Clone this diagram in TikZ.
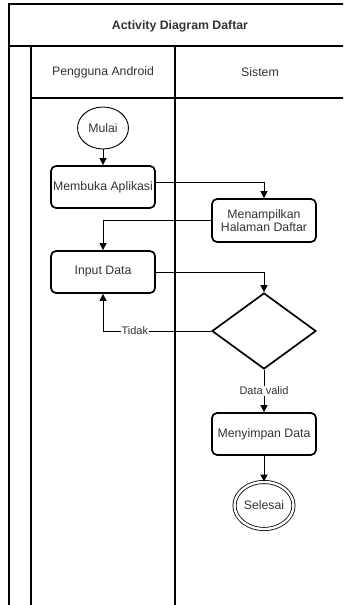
\documentclass[tikz,border=0pt]{standalone}
\usepackage{fontspec}
\setmainfont{Liberation Sans}
\usetikzlibrary{shapes.geometric,arrows.meta,calc}
\definecolor{txt}{HTML}{333333}
\tikzset{
  lane/.style={line width=1.1pt, black},
  actbox/.style={draw, line width=1.7pt, rounded corners=5pt, minimum width=104pt, minimum height=42pt, inner sep=1pt, align=center, text=txt, font=\fontsize{12.3}{13}\selectfont},
  startnode/.style={draw, ellipse, line width=0.9pt, minimum width=51pt, minimum height=42pt, inner sep=0pt, text=txt, font=\fontsize{12.3}{13}\selectfont},
  endnode/.style={draw, ellipse, double, double distance=2.4pt, line width=0.8pt, minimum width=59pt, minimum height=47pt, inner sep=0pt, text=txt, font=\fontsize{12.3}{13}\selectfont},
  decnode/.style={draw, diamond, line width=1.7pt, minimum width=104pt, minimum height=76pt, inner sep=0pt},
  flow/.style={line width=1pt, -{Triangle[length=7pt,width=7pt]}},
  lbl/.style={fill=white, inner sep=1pt, text=txt, font=\fontsize{11}{12}\selectfont},
  hdr/.style={text=txt, font=\fontsize{12.3}{13}\selectfont},
}
\begin{document}
\begin{tikzpicture}[x=1pt,y=-1pt]
\useasboundingbox (0,0) rectangle (343,605);
\clip (0,0) rectangle (343,605);
% pool frame and lanes
\draw[lane] (9,610) -- (9,4) -- (350,4);
\draw[lane] (9,46) -- (350,46);
\draw[lane] (31,46) -- (31,610);
\draw[lane] (175,46) -- (175,610);
\draw[lane] (31,98) -- (350,98);
\node[hdr, font=\bfseries\fontsize{12.3}{13}\selectfont] (title) at (180,26) {Activity Diagram Daftar};
\node[hdr] (lane1) at (103,72) {Pengguna Android};
\node[hdr] (lane2) at (260,72) {Sistem};
% nodes
\node[startnode] (mulai) at (103,128) {Mulai};
\node[actbox] (membuka) at (103,187) {Membuka Aplikasi};
\node[actbox, minimum height=43pt] (tampil) at (264,220.5) {Menampilkan\\Halaman Daftar};
\node[actbox] (input) at (103,272) {Input Data};
\node[decnode] (dec) at (264,331) {};
\node[actbox] (simpan) at (264,434) {Menyimpan Data};
\node[endnode] (selesai) at (264,505.5) {Selesai};
% connectors
\draw[flow] (mulai) -- (membuka);
\draw[flow] ([yshift=5pt]membuka.east) -| (tampil.north);
\draw[flow] (tampil.west) -| (input.north);
\draw[flow] (input.east) -| (dec.north);
\draw[flow] (dec.west) -- node[lbl, pos=0.706] {Tidak} (dec.west -| input.south) -- (input.south);
\draw[flow] (dec.south) -- node[lbl] {Data valid} (simpan.north);
\draw[flow] (simpan.south) -- (selesai.north);
\end{tikzpicture}
\end{document}
